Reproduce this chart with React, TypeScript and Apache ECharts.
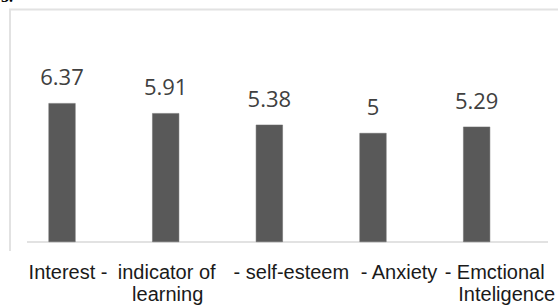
import React, { useEffect, useRef } from "react";
import * as echarts from "echarts";

const categories: string[] = [
  "Interest -",
  "indicator of\nlearning",
  "- self-esteem",
  "- Anxiety",
  "- Emctional\nInteligence",
];
const values: number[] = [6.37, 5.91, 5.38, 5, 5.29];

// horizontal label offsets (left padding, per line) to mimic the reference placement
const labelPads: number[][] = [[12], [2, 4], [44], [52], [36, 60]];

export default function App() {
  const ref = useRef<HTMLDivElement>(null);
  useEffect(() => {
    if (!ref.current) return;
    const chart = echarts.init(ref.current, null, { renderer: "svg" });
    const rich: Record<string, any> = {};
    labelPads.forEach((pads, i) => {
      pads.forEach((p, j) => {
        rich[`l${i}_${j}`] = {
          fontFamily: "Liberation Sans, Arial, sans-serif",
          fontSize: 20,
          lineHeight: 22,
          color: "#1a1a1a",
          padding: [0, 0, 0, p],
        };
      });
    });
    chart.setOption({
      animation: false,
      backgroundColor: "#ffffff",
      grid: { left: 10.2, width: 518.5, top: 67.6, bottom: 66, containLabel: false },
      xAxis: {
        type: "category",
        data: categories,
        axisLine: { show: false },
        axisTick: { show: false },
        axisLabel: {
          interval: 0,
          margin: 19,
          formatter: (val: string) => {
            const idx = categories.indexOf(val);
            return val
              .split("\n")
              .map((line, j) => `{l${idx}_${j}|${line}}`)
              .join("\n");
          },
          rich,
        },
      },
      yAxis: {
        type: "value",
        min: 0,
        max: 8,
        show: false,
        splitLine: { show: false },
      },
      series: [
        {
          type: "bar",
          data: values,
          barWidth: 27,
          itemStyle: { color: "#595959", borderColor: "#6a6a6a", borderWidth: 0.5 },
          label: {
            show: true,
            position: "top",
            distance: 16,
            fontFamily: "Open Sans, sans-serif",
            fontSize: 22,
            color: "#404040",
            formatter: (p: any) => String(p.value),
          },
        },
      ],
      graphic: [
        {
          type: "line",
          shape: { x1: 27, y1: 242, x2: 548, y2: 242 },
          style: { stroke: "#d9d9d9", lineWidth: 1.5 },
        },
        {
          type: "line",
          shape: { x1: 9, y1: 9.5, x2: 558, y2: 9.5 },
          style: { stroke: "#e2e2e2", lineWidth: 2 },
        },
        {
          type: "line",
          shape: { x1: 10, y1: 9, x2: 10, y2: 251 },
          style: { stroke: "#e2e2e2", lineWidth: 2 },
        },
        {
          type: "text",
          x: 1,
          y: 4,
          style: {
            text: "5.",
            font: "bold 16px serif",
            fill: "#000",
            verticalAlign: "bottom",
          },
        },
      ],
    });
    return () => chart.dispose();
  }, []);
  return (
    <div
      ref={ref}
      style={{ position: "fixed", left: 0, top: 0, width: 558, height: 308 }}
    />
  );
}
